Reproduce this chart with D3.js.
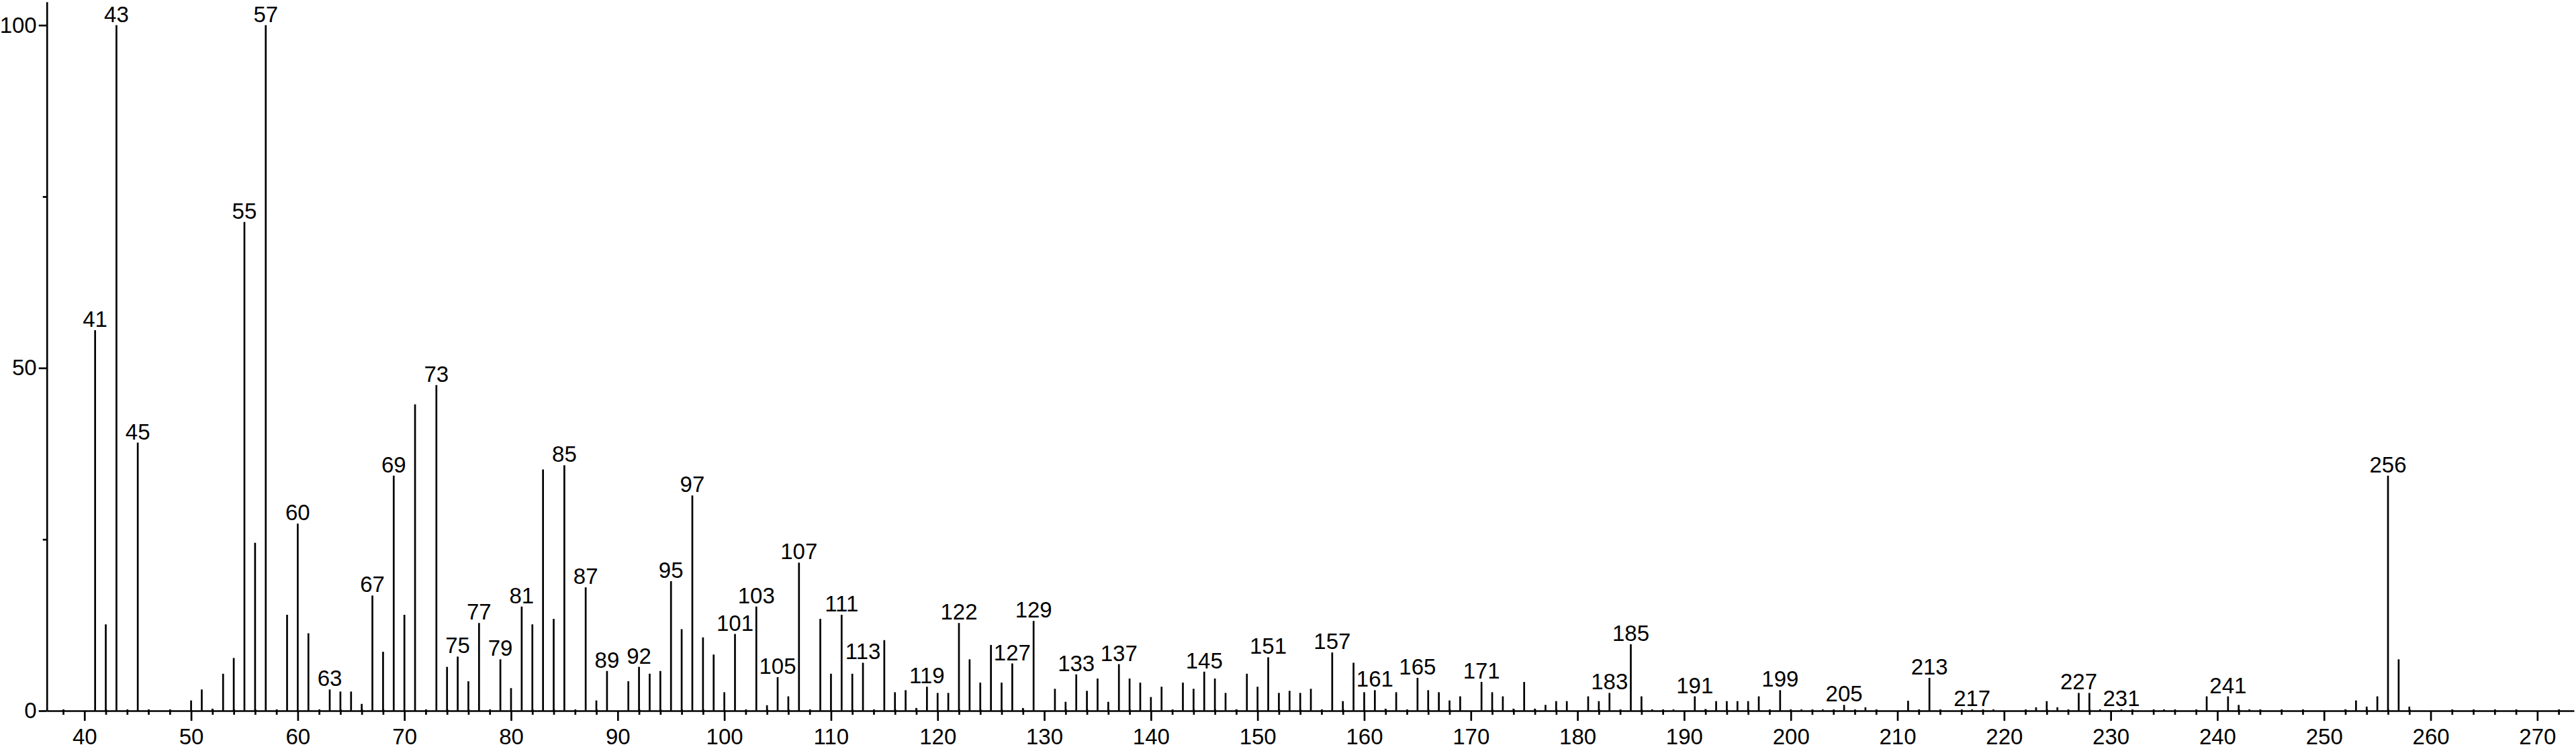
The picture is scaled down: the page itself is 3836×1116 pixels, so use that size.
<!DOCTYPE html>
<html>
<head>
<meta charset="utf-8">
<script src="https://cdn.jsdelivr.net/npm/d3@7"></script>
<style>
  html, body { margin: 0; padding: 0; background: #fff; }
  svg { display: block; }
  text { font-family: "Liberation Sans", Arial, Helvetica, sans-serif; fill: #000; }
</style>
</head>
<body>
<svg id="chart" width="3836" height="1116"></svg>
<script>
// m/z values of the peaks
const mz = [41,42,43,45,50,51,52,53,54,55,56,57,59,60,61,63,64,65,66,67,68,69,70,71,73,74,75,76,77,79,80,81,82,83,84,85,87,88,89,91,92,93,94,95,96,97,98,99,100,101,103,104,105,106,107,109,110,111,112,113,115,116,117,118,119,120,121,122,123,124,125,126,127,128,129,131,132,133,134,135,136,137,138,139,140,141,143,144,145,146,147,148,149,150,151,152,153,154,155,157,158,159,160,161,162,163,165,166,167,168,169,171,172,173,174,175,176,177,178,179,181,182,183,185,186,187,189,191,192,193,194,195,196,197,199,200,201,203,205,207,211,213,217,219,223,224,225,227,228,229,231,235,239,241,242,243,252,253,254,255,256,257,258];
// relative intensities (%)
const intensity = [55.5,12.6,100,39.1,1.5,3.1,0.3,5.4,7.7,71.3,24.5,100,14.0,27.3,11.3,3.1,2.8,2.8,1.0,16.8,8.6,34.3,14.0,44.7,47.5,6.4,7.9,4.3,12.8,7.5,3.3,15.2,12.6,35.2,13.4,35.8,18.0,1.5,5.8,4.3,6.4,5.4,5.8,18.9,11.9,31.4,10.7,8.2,2.7,11.2,15.2,0.8,4.9,2.1,21.6,13.4,5.4,14.0,5.4,7.0,10.3,2.7,3.0,0.4,3.5,2.6,2.6,12.8,7.5,4.1,9.6,4.1,6.9,0.4,13.1,3.2,1.3,5.3,2.9,4.7,1.3,6.8,4.7,4.1,2.0,3.5,4.1,3.2,5.7,4.7,2.6,0.2,5.4,3.5,7.8,2.6,2.9,2.6,3.2,8.5,1.4,7.0,2.7,3.0,0.3,2.7,4.8,3.0,2.7,1.5,2.1,4.2,2.7,2.1,0.3,4.2,0.3,0.85,1.4,1.4,2.1,1.4,2.6,9.7,2.1,0.2,0.2,2.1,0.25,1.4,1.4,1.4,1.4,2.1,3.0,0.2,0.2,0.2,0.85,0.5,1.45,4.8,0.2,0.2,0.5,1.4,0.5,2.6,2.6,0.2,0.2,0.2,2.1,2.1,0.85,0.2,0.2,1.5,0.6,2.1,34.3,7.5,0.6];
// peaks that carry a m/z label
const labelled = [41,43,45,55,57,60,63,67,69,73,75,77,79,81,85,87,89,92,95,97,101,103,105,107,111,113,119,122,127,129,133,137,145,151,157,161,165,171,183,185,191,199,205,213,217,227,231,241,256];
// axis ticks
const xMajorTicks = [40,50,60,70,80,90,100,110,120,130,140,150,160,170,180,190,200,210,220,230,240,250,260,270];
const yMajorTicks = [0,50,100];
const yMinorTicks = [25,75];
const xDomain = [36.47, 273.44];
const yDomain = [0, 103.4];

const peaks = mz.map((m, i) => ({ mz: m, v: intensity[i] }));
const xMinorTicks = d3.range(38, 274, 2).filter(t => t % 10 !== 0);

const svg = d3.select("#chart");
const x = d3.scaleLinear().domain(xDomain).range([69.7, 3833]);
const y = d3.scaleLinear().domain(yDomain).range([1059, 2.8]);
const FONT = 33;
const SW = 2.7;

// x axis minor ticks
svg.append("g")
  .attr("transform", `translate(0,${y(0)})`)
  .call(d3.axisBottom(x).tickValues(xMinorTicks).tickSize(6).tickSizeOuter(0).tickFormat(""))
  .call(g => g.select(".domain").remove())
  .call(g => g.selectAll("line").attr("stroke", "#000").attr("stroke-width", SW).attr("y1", -2));

// x axis major
svg.append("g")
  .attr("transform", `translate(0,${y(0)})`)
  .call(d3.axisBottom(x).tickValues(xMajorTicks).tickSize(15).tickSizeOuter(0).tickPadding(12).tickFormat(d3.format("d")))
  .call(g => g.select(".domain").attr("stroke", "#000").attr("stroke-width", SW))
  .call(g => g.selectAll("line").attr("stroke", "#000").attr("stroke-width", SW))
  .call(g => g.selectAll("text").attr("font-size", FONT).attr("font-family", null).attr("fill", "#000"));

// y axis minor
svg.append("g")
  .attr("transform", `translate(${x(xDomain[0])},0)`)
  .call(d3.axisLeft(y).tickValues(yMinorTicks).tickSize(6).tickSizeOuter(0).tickFormat(""))
  .call(g => g.select(".domain").remove())
  .call(g => g.selectAll("line").attr("stroke", "#000").attr("stroke-width", SW));

// y axis major
svg.append("g")
  .attr("transform", `translate(${x(xDomain[0])},0)`)
  .call(d3.axisLeft(y).tickValues(yMajorTicks).tickSize(12).tickSizeOuter(0).tickPadding(3).tickFormat(d3.format("d")))
  .call(g => g.select(".domain").attr("stroke", "#000").attr("stroke-width", SW))
  .call(g => g.selectAll("line").attr("stroke", "#000").attr("stroke-width", SW))
  .call(g => g.selectAll("text").attr("font-size", FONT).attr("font-family", null).attr("fill", "#000"));

// peaks
svg.append("g").selectAll("line")
  .data(peaks)
  .join("line")
  .attr("x1", d => x(d.mz)).attr("x2", d => x(d.mz))
  .attr("y1", y(0)).attr("y2", d => y(d.v))
  .attr("stroke", "#000").attr("stroke-width", SW);

// peak labels
svg.append("g").selectAll("text")
  .data(peaks.filter(d => labelled.includes(d.mz)))
  .join("text")
  .attr("x", d => x(d.mz))
  .attr("y", d => y(d.v) - 5)
  .attr("text-anchor", "middle")
  .attr("font-size", FONT)
  .text(d => d.mz);
</script>
</body>
</html>
